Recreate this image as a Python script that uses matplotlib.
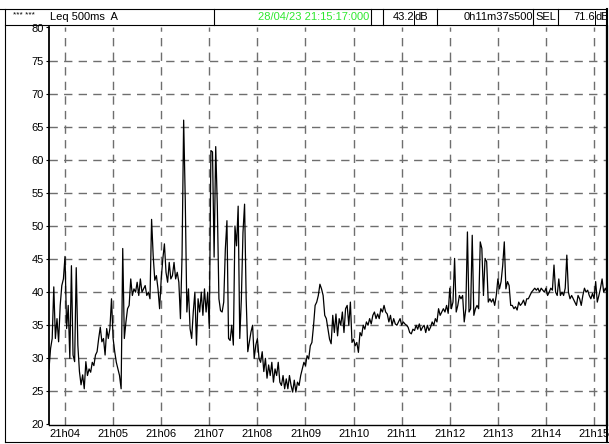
import numpy as np
import matplotlib
matplotlib.use('Agg')
import matplotlib.pyplot as plt
from matplotlib.lines import Line2D

plt.rcParams['font.family'] = ['Liberation Sans', 'DejaVu Sans']

# Leq 500ms A: une valeur toutes les 2 s a partir de 21:03:40
start_s = 220  # secondes apres 21h00
step_s = 2
levels = [
    28.4, 31.5, 33, 40.8, 33, 36, 32.5, 38, 41, 42,
    45.4, 34.5, 38, 30, 44, 30.5, 29.5, 43.7, 32, 28,
    26, 27.5, 25.4, 29.5, 27.4, 28.4, 27.9, 29.4, 28.9, 30.5,
    31, 33, 34.7, 32.5, 33, 30.5, 34.5, 33, 34.5, 39,
    33, 31, 29.4, 28.4, 27.4, 25.4, 46.6, 33, 35.5, 37.5,
    38, 42, 39.5, 40.5, 40, 41.5, 39.5, 42, 40, 40.5,
    41, 39.5, 40, 39,
    51, 45.5, 41.8, 42.5, 40.5, 37.5, 42, 45, 47.3, 43,
    41.5, 44.5, 42, 42.5, 44.5, 42, 43, 41.5, 36, 45.5,
    66, 54, 37, 40.5, 34.5, 33, 37, 40, 32, 39,
    37, 40, 36.5, 40.5, 37, 40, 34.5, 61.4, 61.2, 45.3,
    62, 53, 39, 37.2, 37, 38.5, 46.5, 50.8, 33, 32.7,
    35, 32, 50, 47, 53, 33, 39, 49, 53.3, 39,
    31, 32.5, 34, 35, 30,
    32, 33, 30, 29.4, 31, 28, 30, 27, 29, 27.4,
    29.4, 26.4, 28.4, 27.4, 29.4, 26.4, 25.9, 27.4, 25.4, 26.9,
    25.4, 27.4, 25.9, 24.9, 26.7, 24.9, 26.4, 25.9,
    27.4, 28.4, 29.4, 28.9, 30.4, 29.9, 31.9, 32.4, 34.9, 38,
    38.5, 39.5, 41.2, 40.5, 39.5, 36.5, 36, 34.4, 32.9, 32.2,
    36.5, 33.9, 36.7, 33.4, 36, 35, 37, 33.9, 37.5, 38,
    35, 38.5, 32.4, 32.9, 31.9, 32.4, 30.9, 33.9, 33.4, 35,
    34.4, 35.5, 35, 36, 35.2, 36.5, 37, 36, 36.7, 36,
    37.5, 37, 38, 37, 36.7, 35.5, 36.5, 35, 36, 35.2,
    35, 35.5, 36, 35, 35.5, 35.2, 35, 34.7, 33.9, 33.7,
    34.4, 34.2, 35, 34.4, 35.2, 34.2, 34.7, 35, 33.9, 35,
    34.2, 34.7, 35.5, 35, 36, 35.5, 37.5, 36.5, 37,
    37.5, 37, 38, 36.8, 40.6, 37.5, 38.5, 45.1, 37, 38,
    39.5, 39, 39.5, 35.5, 37.5, 49.1, 37, 37.5, 48.6, 36.5,
    37.5, 38, 37.5, 47.6, 46.6, 39.5, 45.1, 44.6, 38.5, 39,
    38.5, 39, 38, 39.5, 42, 40.5, 41.6, 44, 47.6, 40.5,
    41.6, 41, 38, 38, 37.5, 37.8, 37.3, 38.5, 38, 38.3,
    38.8, 38, 39, 39, 39.5, 40, 40.3, 40.6, 40.3, 40.6,
    40, 40.6, 40.3, 40, 40.6, 39.5, 40, 40.6, 40.3, 44.1,
    40, 39.5, 42, 39.5, 40, 39.5, 40.6, 45.6, 40, 39,
    39.5, 39, 38.5, 38, 39.5, 39, 38, 39.5, 40.6, 40,
    40.3, 39.5, 39, 39.8, 39, 41.6, 38.5, 39.5, 40.6, 42,
    40, 40.6, 40,
]

tick_minutes = [4, 5, 6, 7, 8, 9, 10, 11, 12, 13, 14, 15]
tick_labels = ['21h%02d' % m for m in tick_minutes]
y_ticks = [20, 25, 30, 35, 40, 45, 50, 55, 60, 65, 70, 75, 80]

header_meas = 'Leq 500ms  A'
header_date = '28/04/23 21:15:17:000'
header_leq = '43.2'
header_dur = '0h11m37s500'
header_sel = '71.6'

W, H = 609, 444


def fx(x):
    return x / W


def fy(y):
    return 1 - y / H


fig = plt.figure(figsize=(W / 100, H / 100), dpi=100)
fig.patch.set_facecolor('white')

ax = fig.add_axes([fx(48.5), fy(424.5), fx(606.5) - fx(48.5), fy(27.5) - fy(424.5)])

times = start_s + step_s * np.arange(len(levels))
ax.plot(times, levels, color='black', lw=0.9, zorder=3)

ax.set_xlim(219.4, 915.5)
ax.set_ylim(20, 80)
ax.set_xticks([m * 60 for m in tick_minutes])
ax.set_xticklabels(tick_labels)
ax.set_yticks(y_ticks)

ax.grid(True, color='#6e6e6e', lw=1.0, linestyle=(0, (6, 4.5)))
ax.yaxis.get_gridlines()[0].set_visible(False)
ax.yaxis.get_gridlines()[-1].set_visible(False)

ax.tick_params(axis='x', length=0, pad=3, labelsize=8)
ax.tick_params(axis='y', length=2, pad=1.2, labelsize=8, direction='out')

ax.spines['top'].set_visible(False)
ax.spines['left'].set_linewidth(1.3)
ax.spines['right'].set_linewidth(1.6)
ax.spines['bottom'].set_linewidth(1.0)


# cadre general et bandeau du haut
def hline(y, x0, x1, lw=0.8):
    fig.add_artist(Line2D([fx(x0), fx(x1)], [fy(y), fy(y)], color='black', lw=lw,
                          transform=fig.transFigure))


def vline(x, y0, y1, lw=0.8):
    fig.add_artist(Line2D([fx(x), fx(x)], [fy(y0), fy(y1)], color='black', lw=lw,
                          transform=fig.transFigure))


hline(9, 0, 607)
hline(25, 5, 607)
hline(441.5, 5, 609)
vline(5, 9, 441.5)
vline(606.8, 9, 441.5, lw=1.5)
for xb in [214, 371, 383, 437, 533, 558]:
    vline(xb, 9, 25)
vline(414, 11, 25, lw=0.7)
vline(595, 11, 25, lw=0.7)

ty = fy(17)
fs = 8
fig.text(fx(13), fy(15.5), '*** ***', fontsize=6, va='center', ha='left')
fig.text(fx(50), ty, header_meas, fontsize=fs, va='center', ha='left')
fig.text(fx(369), ty, header_date, fontsize=fs, va='center', ha='right', color='#2ee82e')
fig.text(fx(414), ty, header_leq, fontsize=fs, va='center', ha='right')
fig.text(fx(414.5), ty, 'dB', fontsize=fs, va='center', ha='left')
fig.text(fx(533), ty, header_dur, fontsize=fs, va='center', ha='right')
fig.text(fx(545.5), ty, 'SEL', fontsize=fs, va='center', ha='center')
fig.text(fx(595), ty, header_sel, fontsize=fs, va='center', ha='right')
fig.text(fx(595.5), ty, 'dB', fontsize=fs, va='center', ha='left')

fig.savefig('out.png', dpi=100)
